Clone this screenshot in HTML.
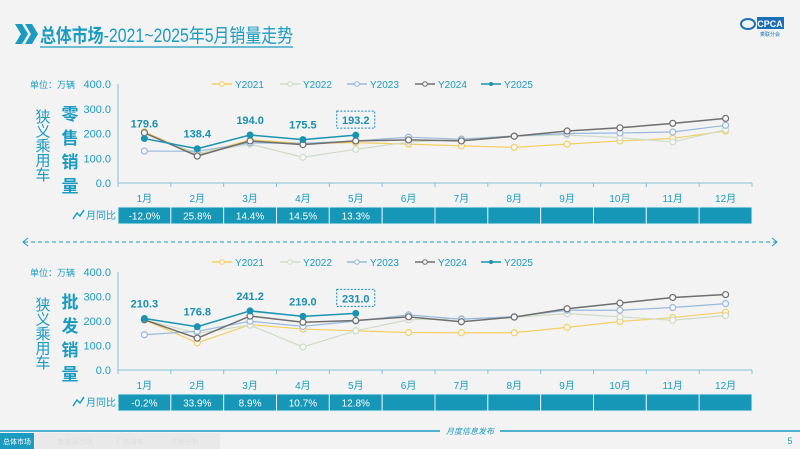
<!DOCTYPE html>
<html><head><meta charset="utf-8">
<style>
body{margin:0;width:800px;height:449px;overflow:hidden;background:#f3f3f3;font-family:"Liberation Sans","Noto Sans CJK SC",sans-serif;}
svg{display:block}
</style></head>
<body>
<svg id="s" width="800" height="449" xmlns="http://www.w3.org/2000/svg">
<rect x="0" y="0" width="800" height="449" fill="#f3f3f3"/>
<g fill="#1b9bc0">
<polygon points="15,24 22,24 28,34 22,44 15,44 21,34"/>
<polygon points="25,24 32,24 38,34 32,44 25,44 31,34"/>
</g>
<text x="40" y="42" font-size="19" fill="#1b9bc0" textLength="253" lengthAdjust="spacingAndGlyphs"><tspan font-weight="bold">总体市场</tspan>-2021~2025年5月销量走势</text>
<line x1="40" y1="47" x2="293" y2="47" stroke="#1b9bc0" stroke-width="1.2"/>
<g>
<rect x="757" y="17" width="27" height="12" fill="#1a6fb8"/>
<text x="770" y="27" font-size="9" fill="#fff" text-anchor="middle" font-weight="bold">CPCA</text>
<ellipse cx="748" cy="24" rx="7" ry="5" fill="none" stroke="#1a6fb8" stroke-width="2"/>
<text x="770" y="36" font-size="5" fill="#1a6fb8" text-anchor="middle">乘联分会</text>
</g>
<g stroke="#1b9bc0" stroke-width="1">
<line x1="24" y1="242" x2="776" y2="242" stroke-dasharray="4,3"/>
<polyline points="28,238 23,242 28,246" fill="none"/>
<polyline points="772,238 777,242 772,246" fill="none"/>
</g>
<g id="top"></g>
<g id="bot"></g>
<line x1="0" y1="431" x2="800" y2="431" stroke="#1b9bc0" stroke-width="1.5"/>
<rect x="0" y="433" width="34" height="16" fill="#1b9bc0"/>
<text x="17" y="444" font-size="7" fill="#fff" text-anchor="middle">总体市场</text>
<rect x="35" y="433" width="185" height="16" fill="#e9e9e9"/>
<text x="75" y="444" font-size="7" fill="#ddd" text-anchor="middle">新能源市场</text>
<text x="130" y="444" font-size="7" fill="#ddd" text-anchor="middle">厂商排名</text>
<text x="185" y="444" font-size="7" fill="#ddd" text-anchor="middle">车型分析</text>
<rect x="440" y="425" width="60" height="12" fill="#f3f3f3"/>
<text x="470" y="434" font-size="8" fill="#1b9bc0" text-anchor="middle" font-style="italic">月度信息发布</text>
<text x="790" y="444" font-size="9" fill="#1b9bc0" text-anchor="middle">5</text>
</svg>
<script>
const months=["1月","2月","3月","4月","5月","6月","7月","8月","9月","10月","11月","12月"];
const yTicks=[0,100,200,300,400];
const seriesNames=["Y2021","Y2022","Y2023","Y2024","Y2025"];
const retail2021=[207,115,175,160,163,157,150,144,157,170,180,210];
const retail2022=[200,120,157,104,136,165,178,190,194,183,166,215];
const retail2023=[129,128,162,160,170,185,177,190,200,202,206,233];
const retail2024=[203,109,170,155,170,174,170,189,210,223,241,261];
const retail2025=[179.6,138.4,194.0,175.5,193.2];
const retailYoY=["-12.0%","25.8%","14.4%","14.5%","13.3%","","","","","","",""];
const whole2021=[205,111,185,167,160,153,152,152,174,198,214,236];
const whole2022=[205,150,183,94,160,205,210,215,230,217,203,222];
const whole2023=[144,158,199,178,200,225,207,218,244,244,255,271];
const whole2024=[205,130,220,195,202,217,197,216,250,273,296,308];
const whole2025=[210.3,176.8,241.2,219.0,231.0];
const wholeYoY=["-0.2%","33.9%","8.9%","10.7%","12.8%","","","","","","",""];
const colors=["#f3cf63","#cfdcc6","#98b9de","#6f6f6f","#1a93b0"];
const NS="http://www.w3.org/2000/svg";
function mk(p,t,a){const e=document.createElementNS(NS,t);for(const k in a)e.setAttribute(k,a[k]);p.appendChild(e);return e;}
function draw(g,cfg){
 const x0=118,x1=752,bw=(x1-x0)/12;
 const X=i=>x0+bw*(i+0.5);
 const Y=v=>cfg.y0-(cfg.y0-cfg.y400)*v/400;
 const teal="#1b9bc0";
 let t=mk(g,"text",{x:30,y:cfg.y400+4,"font-size":9,fill:teal});t.textContent="单位：万辆";
 
 "狭义乘用车".split("").forEach((c,i)=>{const e=mk(g,"text",{x:43,y:cfg.y400+38+i*14.5,"font-size":15,fill:teal,"text-anchor":"middle"});e.textContent=c;});
 cfg.vt.split("").forEach((c,i)=>{const e=mk(g,"text",{x:70,y:cfg.y400+36+i*24,"font-size":17,"font-weight":"bold",fill:teal,"text-anchor":"middle"});e.textContent=c;});
 yTicks.forEach(v=>{const e=mk(g,"text",{x:111,y:Y(v)+4,"font-size":11,fill:teal,"text-anchor":"end"});e.textContent=v.toFixed(1);
  });
 mk(g,"line",{x1:x0,y1:cfg.y400,x2:x0,y2:cfg.y0,stroke:"#7fc4d6"});
 mk(g,"line",{x1:x0,y1:cfg.y0,x2:x1,y2:cfg.y0,stroke:"#7fc4d6"});
 for(let i=0;i<=12;i++)mk(g,"line",{x1:x0+bw*i,y1:cfg.y0,x2:x0+bw*i,y2:cfg.y0+4,stroke:"#7fc4d6"});
 months.forEach((m,i)=>{const e=mk(g,"text",{x:X(i),y:cfg.y0+19,"font-size":10,fill:teal,"text-anchor":"middle"});e.textContent=m;
  });
 seriesNames.forEach((n,k)=>{const lx=[222,290,357,425,491][k],ly=cfg.ly;
  const lg=mk(g,"g",{});
  
  mk(lg,"line",{x1:lx-10,y1:ly,x2:lx+10,y2:ly,stroke:colors[k],"stroke-width":1.5});
  if(k<4)mk(lg,"circle",{cx:lx,cy:ly,r:2.3,fill:"#f7f7f7",stroke:colors[k]});else mk(lg,"circle",{cx:lx,cy:ly,r:2,fill:colors[k]});
  const e=mk(lg,"text",{x:lx+13,y:ly+4,"font-size":10,fill:teal});e.textContent=n;});
 cfg.data.forEach((arr,k)=>{
  const pl=mk(g,"polyline",{points:arr.map((v,i)=>X(i)+","+Y(v)).join(" "),fill:"none",stroke:colors[k],"stroke-width":k==3||k==4?1.5:1.2});
  
  arr.forEach((v,i)=>{let c;
   if(k<4)c=mk(g,"circle",{cx:X(i),cy:Y(v),r:3,fill:"#f7f7f7",stroke:colors[k],"stroke-width":1.2});
   else c=mk(g,"circle",{cx:X(i),cy:Y(v),r:3.5,fill:colors[k]});
   
   if(k==4){const e=mk(g,"text",{x:X(i),y:Y(v)-11,"font-size":11,"font-weight":"bold",fill:"#1a8fb0","text-anchor":"middle"});e.textContent=v.toFixed(1);
    
    if(i==arr.length-1)mk(g,"rect",{x:X(i)-19,y:Y(v)-24,width:38,height:17,fill:"none",stroke:"#1a8fb0","stroke-dasharray":"2,1.5"});}
  });
 });
 const ty=cfg.y0+24;
 mk(g,"polyline",{points:`73,${ty+12} 77,${ty+6} 80,${ty+9} 84,${ty+3}`,fill:"none",stroke:teal,"stroke-width":1.5});
 const lt=mk(g,"text",{x:86,y:ty+12,"font-size":10,fill:teal});lt.textContent="月同比";
 
 cfg.yoy.forEach((s,i)=>{const r=mk(g,"rect",{x:x0+bw*i,y:ty,width:bw,height:17,fill:"#1797b8",stroke:"#dff0f5","stroke-width":1});
  
  const e=mk(g,"text",{x:X(i),y:ty+12.5,"font-size":10,fill:"#fff","text-anchor":"middle"});e.textContent=s;});
}
draw(document.getElementById("top"),{y0:183,y400:84,ly:84,vt:"零售销量",data:[retail2021,retail2022,retail2023,retail2024,retail2025],yoy:retailYoY});
draw(document.getElementById("bot"),{y0:370,y400:272,ly:262,vt:"批发销量",data:[whole2021,whole2022,whole2023,whole2024,whole2025],yoy:wholeYoY});
</script>
</body></html>
